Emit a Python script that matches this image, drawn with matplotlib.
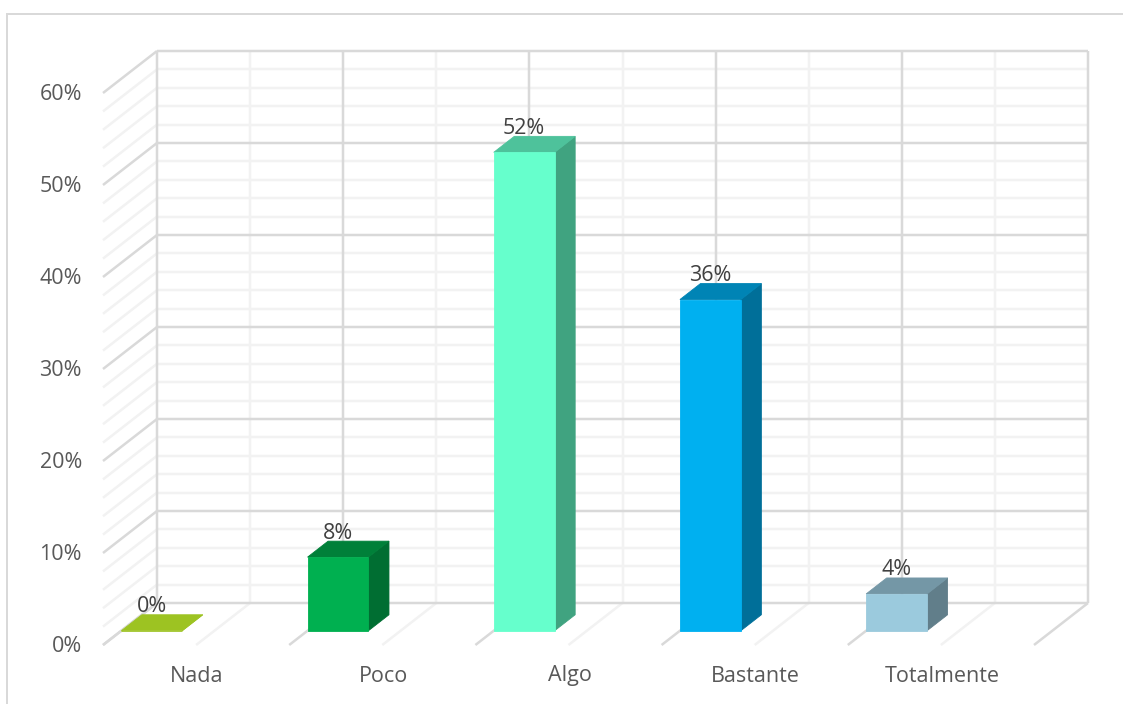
#simple oblique 3D column chart, built on a normal 2D axes

import matplotlib
matplotlib.use('Agg')
import matplotlib.pyplot as plt

categories = ['Nada', 'Poco', 'Algo', 'Bastante', 'Totalmente']
values = [0, 8, 52, 36, 4]
y_ticks = [0, 10, 20, 30, 40, 50, 60]
y_labels = ['0%', '10%', '20%', '30%', '40%', '50%', '60%']

front_colors = ['#9DC322', '#00B050', '#66FFCC', '#00B0F0', '#9BCADD']
top_colors = ['#9DC322', '#008039', '#4EC29B', '#0084B5', '#7497A6']
side_colors = ['#9DC322', '#006E32', '#40A380', '#006F99', '#617E8A']

major_color = '#D9D9D9'
minor_color = '#F2F2F2'

W, H = 1123, 704
px = 1 / 100
pt = 0.72       #one pixel in points at dpi 100

#back wall in pixels
wall_left = 157
wall_base = 603
cat_w = 186.2
unit_h = 9.2
depth_x = 54
depth_y = 42

bar_w = 0.327
d_front = 0.66
d_back = 0.28

line_w = 2.5 * pt
label_size = 15.5

plt.rcParams['font.family'] = ['Open Sans', 'DejaVu Sans']

fig = plt.figure(figsize=(W * px, H * px), dpi=100)
ax = fig.add_axes([0, 0, 1, 1])
ax.set_xlim(-wall_left / cat_w, (W - wall_left) / cat_w)
ax.set_ylim((wall_base - H) / unit_h, wall_base / unit_h)
ax.axis('off')


#depth d goes from 0 on the back wall to 1 on the front edge
def shift(x, v, d):
    return x - d * depth_x / cat_w, v - d * depth_y / unit_h


def face(points, color, z):
    xs = [shift(*p)[0] for p in points]
    ys = [shift(*p)[1] for p in points]
    ax.fill(xs, ys, facecolor=color, edgecolor=color, linewidth=0.6, zorder=z)


n = len(categories)
top = y_ticks[-1]
step = 2

#minor grid first, so the major lines stay on top
for v in range(0, top + 1, step):
    is_major = v in y_ticks
    c = major_color if is_major else minor_color
    z = 2 if is_major else 1
    ax.plot([0, n], [v, v], color=c, lw=line_w, zorder=z, solid_capstyle='butt')
    x2, y2 = shift(0, v, 1)
    ax.plot([0, x2], [v, y2], color=c, lw=line_w, zorder=z, solid_capstyle='butt')

for i in range(2 * n + 1):
    x = i / 2
    is_major = i % 2 == 0
    c = major_color if is_major else minor_color
    z = 2 if is_major else 1
    ax.plot([x, x], [0, top], color=c, lw=line_w, zorder=z, solid_capstyle='butt')
    x2, y2 = shift(x, 0, 1)
    ax.plot([x, x2], [0, y2], color=c, lw=line_w, zorder=z, solid_capstyle='butt')

#columns
for i, v in enumerate(values):
    l, r = i, i + bar_w
    face([(l, 0, d_front), (r, 0, d_front), (r, v, d_front), (l, v, d_front)], front_colors[i], 4)
    face([(r, 0, d_front), (r, 0, d_back), (r, v, d_back), (r, v, d_front)], side_colors[i], 3)
    face([(l, v, d_front), (r, v, d_front), (r, v, d_back), (l, v, d_back)], top_colors[i], 3)

    lx, ly = shift(i + bar_w / 2, v, d_back)
    lx = shift(i + bar_w / 2, v, d_front)[0]
    ax.annotate('{}%'.format(v), (lx, ly), xytext=(0, 8 * pt), textcoords='offset points',
                ha='center', va='center', fontsize=label_size, color='#404040', zorder=5)

#axis labels
for v, label in zip(y_ticks, y_labels):
    x2, y2 = shift(0, v, 1)
    ax.annotate(label, (x2, y2), xytext=(-21 * pt, -1 * pt), textcoords='offset points',
                ha='right', va='center', fontsize=label_size, color='#595959')

for i, name in enumerate(categories):
    x2, y2 = shift(i + 0.5, 0, 1)
    ax.annotate(name, (x2, y2), xytext=(1 * pt, -31 * pt), textcoords='offset points',
                ha='center', va='center', fontsize=label_size, color='#595959')

#chart frame, runs off the picture on the right and at the bottom
fig.add_artist(plt.Line2D([7 / W, 7 / W], [0, 1 - 14 / H], color=major_color, lw=2 * pt))
fig.add_artist(plt.Line2D([7 / W, 1], [1 - 14 / H, 1 - 14 / H], color=major_color, lw=2 * pt))

fig.savefig('out.png', dpi=100)
